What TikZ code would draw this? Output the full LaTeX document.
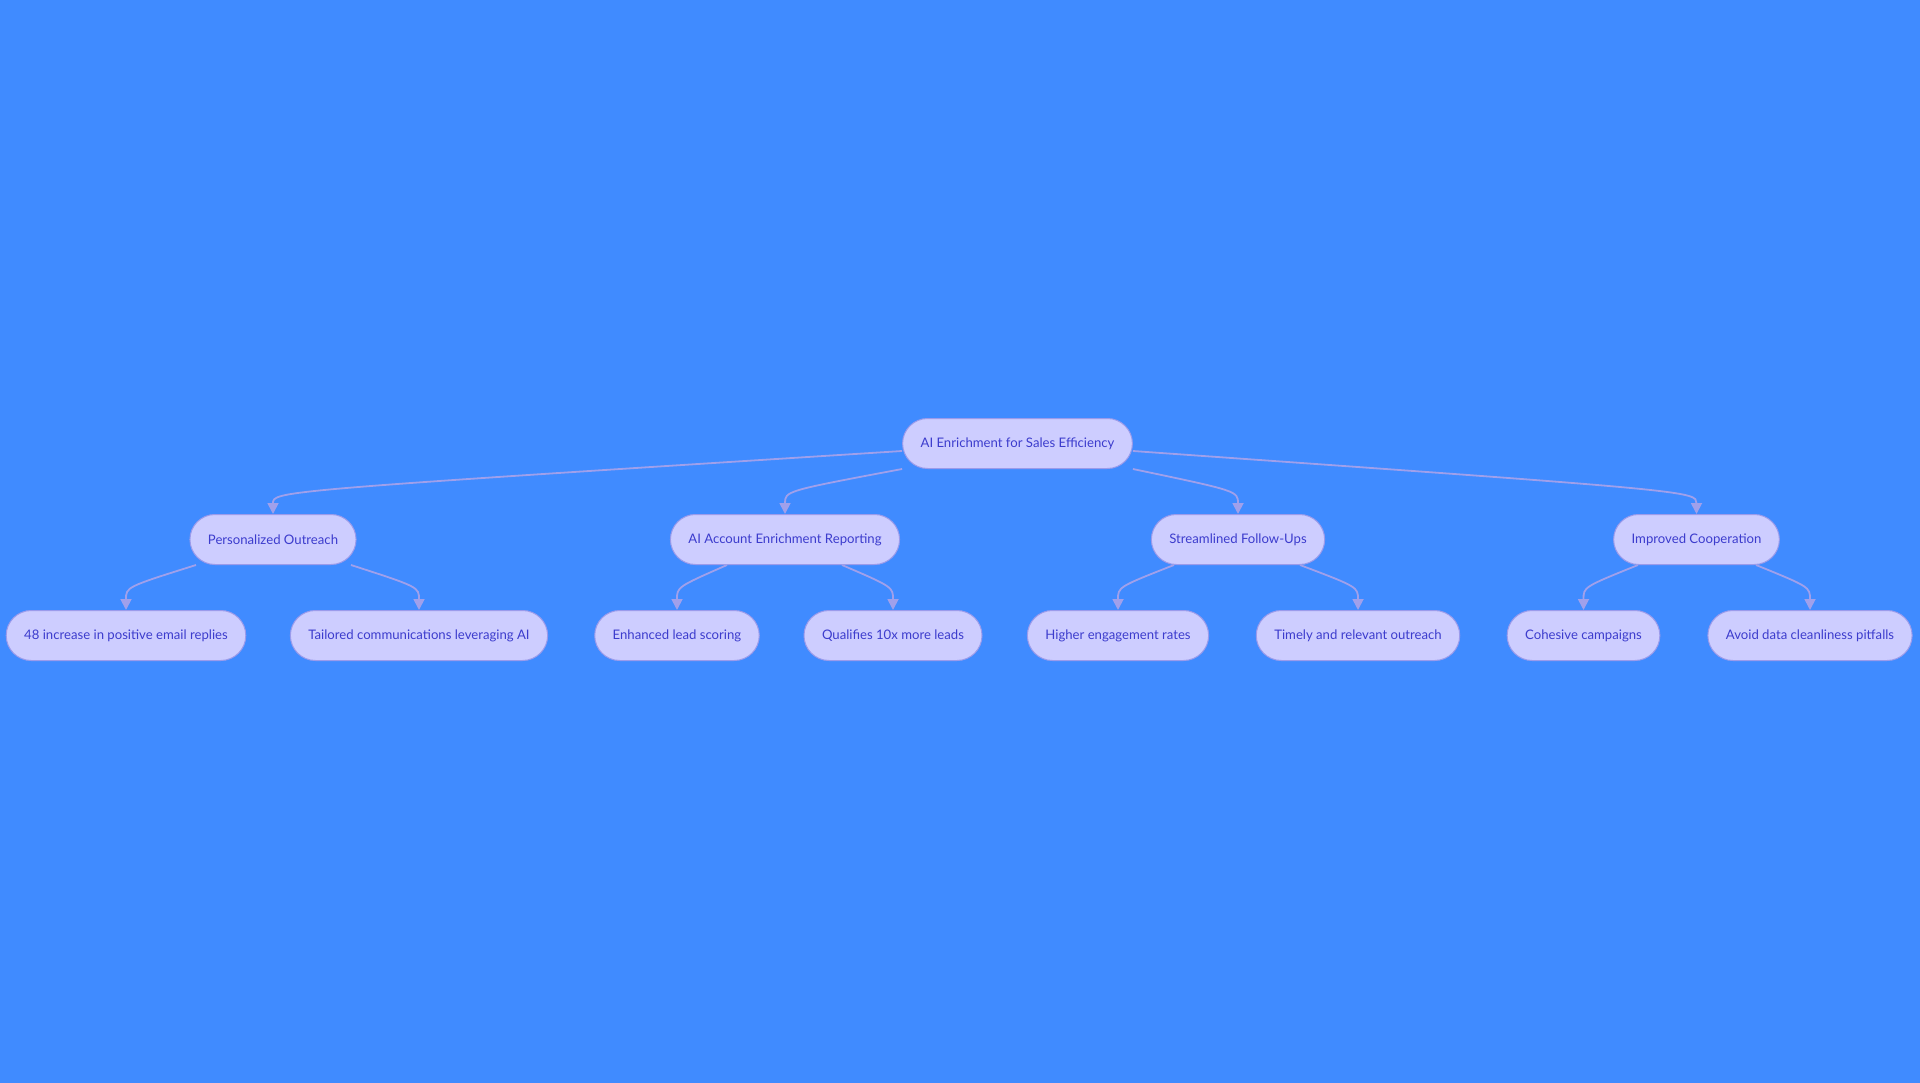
\documentclass[tikz,border=0pt]{standalone}
\usepackage{fontspec}
\setmainfont{Lato}
\usetikzlibrary{arrows.meta,calc}
\definecolor{bgblue}{RGB}{64,139,255}
\definecolor{boxfill}{RGB}{205,205,255}
\definecolor{boxline}{RGB}{155,155,235}
\definecolor{boxtext}{RGB}{60,60,205}
\definecolor{linkcol}{RGB}{160,160,235}
\begin{document}
\begin{tikzpicture}[x=1pt, y=-1pt,
  box/.style={draw=boxline, line width=1pt, fill=boxfill, text=boxtext, rounded corners=25pt, minimum height=50pt, inner xsep=18pt, font=\fontsize{13.15}{16}\selectfont},
  link/.style={draw=linkcol, line width=1.8pt, -{Triangle[length=11pt,width=11pt]}}]
		\fill[bgblue] (0,0) rectangle (1920,1083);
		\node[box] (root) at (1017.5,443.5) {AI Enrichment for Sales Efficiency};
		\node[box] (po) at (273,539.5) {Personalized Outreach};
		\node[box] (air) at (785,539.5) {AI Account Enrichment Reporting};
		\node[box] (sfu) at (1238,539.5) {Streamlined Follow-Ups};
		\node[box] (ic) at (1696.5,539.5) {Improved Cooperation};
		\node[box] (replies) at (126,635.5) {48 increase in positive email replies};
		\node[box] (tailored) at (419,635.5) {Tailored communications leveraging AI};
		\node[box] (scoring) at (677,635.5) {Enhanced lead scoring};
		\node[box] (qualifies) at (893,635.5) {Qualifies 10x more leads};
		\node[box] (engage) at (1118,635.5) {Higher engagement rates};
		\node[box] (timely) at (1358,635.5) {Timely and relevant outreach};
		\node[box] (cohesive) at (1583.5,635.5) {Cohesive campaigns};
		\node[box] (pitfalls) at (1810,635.5) {Avoid data cleanliness pitfalls};
		\draw[link] ($(root.west)+(0,7.5)$) .. controls ($(po.north)+(0,-23)$) .. (po.north);
		\draw[link] (root.south west) .. controls ($(air.north)+(0,-23)$) .. (air.north);
		\draw[link] (root.south east) .. controls ($(sfu.north)+(0,-23)$) .. (sfu.north);
		\draw[link] ($(root.east)+(0,7.5)$) .. controls ($(ic.north)+(0,-23)$) .. (ic.north);
		\draw[link] ([xshift=-77pt]po.south) .. controls ($(replies.north)+(0,-23)$) .. (replies.north);
		\draw[link] ([xshift=78pt]po.south) .. controls ($(tailored.north)+(0,-23)$) .. (tailored.north);
		\draw[link] ([xshift=-58pt]air.south) .. controls ($(scoring.north)+(0,-23)$) .. (scoring.north);
		\draw[link] ([xshift=57pt]air.south) .. controls ($(qualifies.north)+(0,-23)$) .. (qualifies.north);
		\draw[link] ([xshift=-64pt]sfu.south) .. controls ($(engage.north)+(0,-23)$) .. (engage.north);
		\draw[link] ([xshift=62pt]sfu.south) .. controls ($(timely.north)+(0,-23)$) .. (timely.north);
		\draw[link] ([xshift=-58.5pt]ic.south) .. controls ($(cohesive.north)+(0,-23)$) .. (cohesive.north);
		\draw[link] ([xshift=59.5pt]ic.south) .. controls ($(pitfalls.north)+(0,-23)$) .. (pitfalls.north);
\end{tikzpicture}
\end{document}
